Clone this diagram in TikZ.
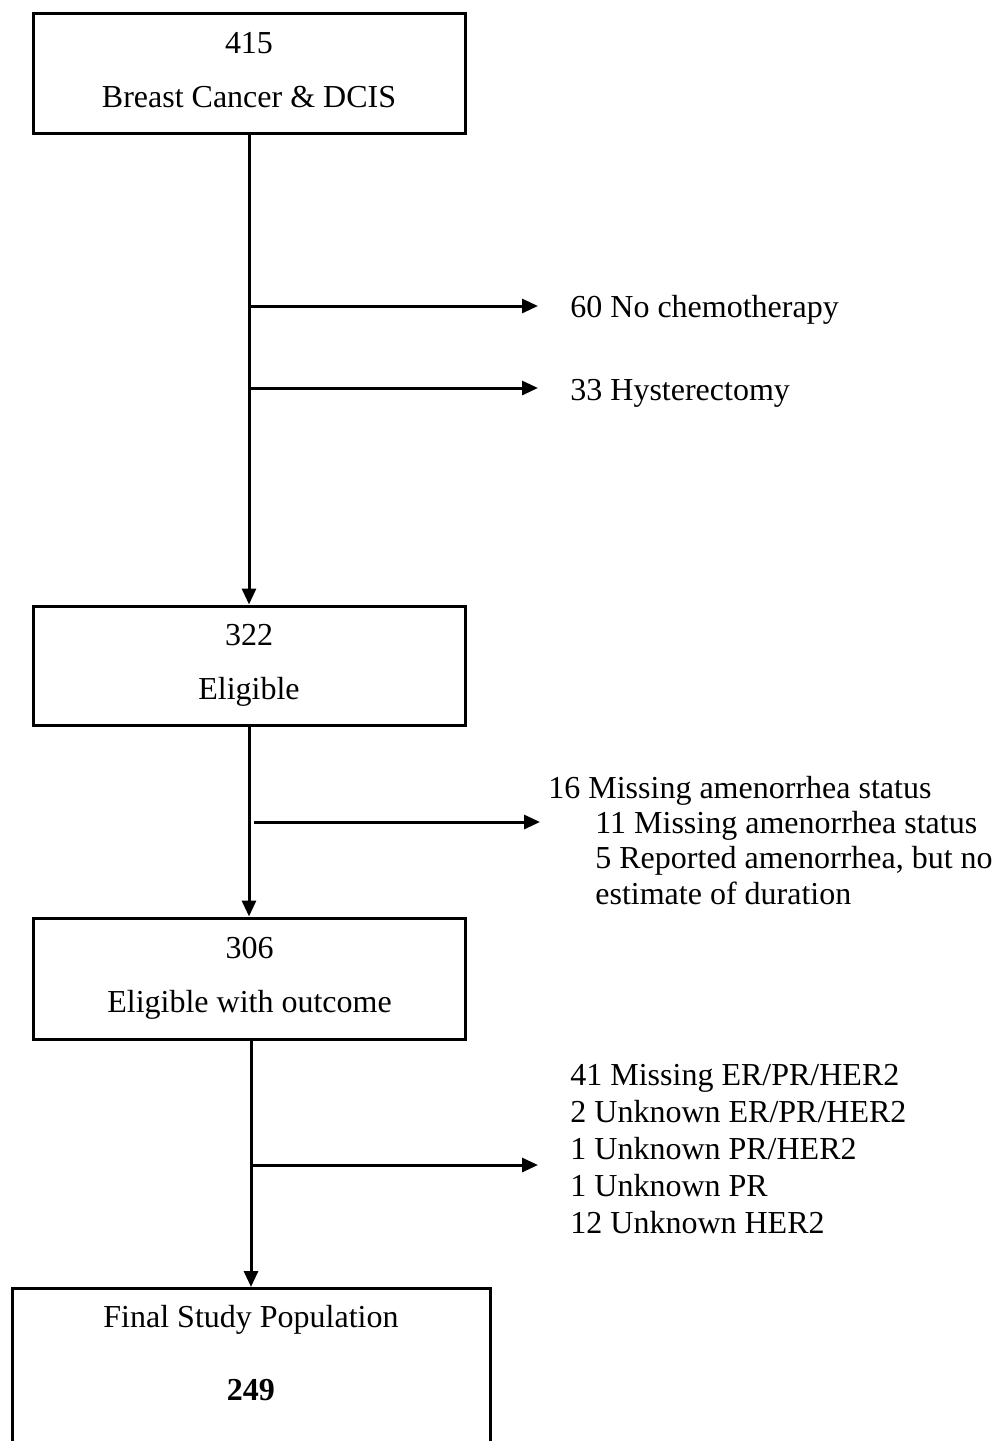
\documentclass[tikz,border=0pt]{standalone}
\usepackage{fontspec}
\setmainfont{Liberation Serif}
\usetikzlibrary{arrows.meta}
\begin{document}
\begin{tikzpicture}[x=0.5pt,y=-0.5pt,
  box/.style={draw, line width=1.5pt, rectangle, minimum width=216pt, minimum height=60pt,
    align=center, inner sep=0pt, text depth=3.5pt, font=\fontsize{16}{27}\selectfont},
  lbl/.style={anchor=north west, inner sep=0pt, align=left},
  arr/.style={line width=1.5pt, -{Triangle[length=8pt,width=7pt]}}]
\useasboundingbox (0,0) rectangle (995,1441);
\clip (0,0) rectangle (995,1441);

% boxes
\node[box] (b1) at (249,73) {415\\Breast Cancer \& DCIS};
\node[box, minimum height=59.5pt] (b2) at (249,665.5) {322\\Eligible};
\node[box, minimum height=60.5pt] (b3) at (249.5,978.5) {306\\Eligible with outcome};
\node[draw, line width=1.5pt, rectangle, minimum width=239pt, minimum height=100pt,
  anchor=north, inner sep=0pt] (b4) at (251,1287) {};
\node[align=center, inner sep=0pt, font=\fontsize{16}{36.5}\selectfont] (b4t) at (251,1353.5)
  {Final Study Population\\\textbf{249}};

% side texts
\node[lbl, font=\fontsize{16}{18}\selectfont] (t1) at (570,295) {60 No chemotherapy};
\node[lbl, font=\fontsize{16}{18}\selectfont] (t2) at (570,379) {33 Hysterectomy};
\node[lbl, font=\fontsize{16}{17.67}\selectfont] (t3) at (548,775.7)
  {16 Missing amenorrhea status\\
   \hspace*{23.5pt}11 Missing amenorrhea status\\
   \hspace*{23.5pt}5 Reported amenorrhea, but no\\
   \hspace*{23.5pt}estimate of duration};
\node[lbl, font=\fontsize{16}{18.5}\selectfont] (t4) at (570,1063.7)
  {41 Missing ER/PR/HER2\\
   2 Unknown ER/PR/HER2\\
   1 Unknown PR/HER2\\
   1 Unknown PR\\
   12 Unknown HER2};

% coordinates for the side arrows
\coordinate (s1) at (249,306);  \coordinate (e1) at (538,306);
\coordinate (s2) at (249,388);  \coordinate (e2) at (538,388);
\coordinate (s3) at (254,822);  \coordinate (e3) at (540,822);
\coordinate (s4) at (252,1165); \coordinate (e4) at (538,1165);

% main flow
\draw[arr] (b1.south) -- (b2.north);
\draw[arr] (b2.south) -- (b2.south |- b3.north);
\draw[arr] (b4.north |- b3.south) -- (b4.north);

% exclusions
\draw[arr] (s1) -- (e1);
\draw[arr] (s2) -- (e2);
\draw[arr] (s3) -- (e3);
\draw[arr] (s4) -- (e4);
\end{tikzpicture}
\end{document}
